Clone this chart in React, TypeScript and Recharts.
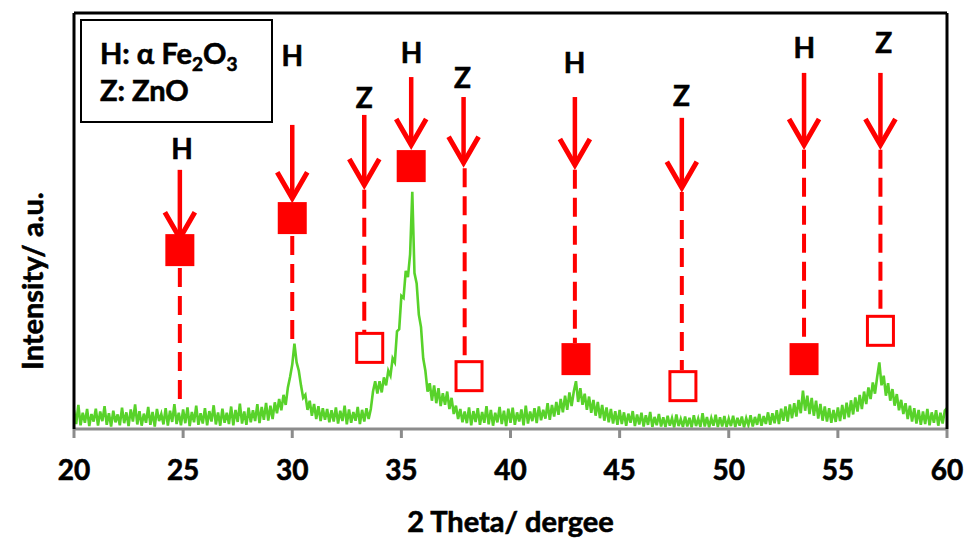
import React from "react";
import {
  ComposedChart,
  Line,
  Scatter,
  XAxis,
  YAxis,
  ReferenceLine,
  Legend,
  Label,
} from "recharts";

// ---- data ----
const spectrumStart = 20;
const spectrumStep = 0.1;
// intensity (a.u.) read every 0.1 degree from 20.0 to 60.0
const intensity = [
  4.5, 1.2, 5.8, 0.9, 3.9, 1.5, 4.8, 0.7, 3.6, 1.8,
  4.9, 0.8, 4.2, 1.9, 5.5, 1.0, 3.8, 0.6, 4.4, 1.6,
  3.5, 0.9, 5.1, 1.4, 4.0, 0.7, 4.7, 1.8, 5.9, 1.1,
  4.3, 0.8, 3.7, 1.5, 5.3, 1.0, 4.1, 0.6, 4.8, 1.9,
  3.6, 1.1, 5.0, 0.8, 4.4, 1.7, 6.0, 1.2, 3.9, 0.9,
  4.7, 1.4, 5.2, 0.7, 4.1, 1.6, 5.6, 1.0, 3.8, 1.3,
  5.0, 0.9, 4.3, 1.8, 5.7, 1.1, 4.0, 0.8, 4.9, 1.5,
  3.9, 1.2, 5.4, 0.9, 4.6, 1.7, 6.1, 1.3, 4.2, 1.0,
  5.1, 1.6, 4.5, 1.9, 6.0, 1.4, 5.3, 2.2, 6.3, 2.0,
  5.6, 2.4, 6.4, 3.8, 7.2, 4.5, 8.2, 5.8, 10.0, 12.5,
  15.5, 20.5, 16.0, 14.0, 10.5, 7.5, 8.2, 4.6, 6.8, 3.2,
  6.0, 2.4, 5.5, 1.9, 5.0, 2.2, 4.8, 1.6, 4.5, 1.8,
  5.2, 1.3, 4.4, 1.9, 5.6, 1.1, 4.7, 1.5, 4.1, 2.0,
  5.3, 1.2, 4.6, 1.8, 5.0, 2.4, 4.8, 9.0, 11.5, 8.5,
  11.5, 8.8, 12.4, 10.5, 14.0, 12.8, 17.0, 16.0, 23.5, 24.0,
  32.0, 31.5, 38.0, 36.5, 42.0, 57.0, 37.5, 35.0, 27.5, 24.5,
  17.0, 14.0, 9.0, 11.0, 6.8, 10.5, 6.2, 9.8, 5.5, 8.6,
  5.8, 9.0, 4.8, 7.5, 3.6, 5.6, 2.4, 4.8, 1.6, 4.2,
  1.4, 5.2, 0.9, 4.3, 1.7, 5.0, 1.0, 4.1, 1.5, 5.5,
  1.1, 4.6, 0.8, 3.9, 1.6, 5.3, 1.2, 4.4, 0.7, 4.9,
  1.5, 5.1, 1.0, 4.0, 1.8, 4.7, 0.9, 5.6, 1.3, 4.2,
  1.9, 5.0, 1.4, 5.4, 2.1, 4.6, 2.5, 6.2, 2.2, 5.8,
  3.0, 6.5, 3.4, 7.2, 4.0, 8.0, 4.6, 8.8, 5.5, 9.0,
  11.5, 6.5, 9.8, 5.8, 8.5, 4.6, 7.8, 3.9, 7.0, 3.2,
  6.5, 2.6, 5.8, 2.0, 5.2, 1.6, 4.8, 1.3, 4.3, 1.0,
  4.6, 1.2, 4.0, 0.8, 3.7, 1.5, 4.3, 0.7, 3.5, 1.1,
  3.9, 0.6, 3.3, 1.0, 4.1, 0.5, 2.9, 0.9, 3.6, 0.6,
  2.8, 0.5, 3.2, 0.8, 2.6, 0.4, 3.5, 0.7, 2.4, 0.5,
  3.0, 0.6, 2.7, 0.4, 3.3, 0.7, 2.5, 0.5, 3.8, 0.6,
  2.9, 0.4, 2.6, 0.8, 3.4, 0.5, 2.8, 0.6, 3.1, 0.5,
  2.5, 0.7, 3.2, 0.5, 2.7, 0.8, 3.0, 0.4, 2.6, 0.9,
  3.3, 0.6, 2.9, 1.0, 3.6, 0.8, 3.1, 1.2, 4.0, 1.0,
  3.8, 1.4, 4.5, 1.2, 4.9, 2.0, 5.4, 1.8, 5.9, 2.6,
  6.2, 3.0, 7.0, 3.8, 9.2, 4.4, 8.0, 3.6, 7.5, 3.2,
  6.8, 2.5, 6.0, 2.0, 5.4, 1.8, 5.0, 1.5, 4.6, 1.7,
  5.2, 1.9, 5.8, 2.4, 6.3, 2.8, 6.9, 3.5, 7.6, 4.2,
  8.2, 4.8, 9.0, 6.0, 10.0, 7.2, 11.2, 8.5, 12.5, 16.0,
  10.5, 12.8, 8.0, 11.0, 6.8, 9.6, 5.6, 8.4, 4.5, 7.0,
  3.6, 6.2, 2.4, 5.6, 1.8, 5.0, 1.3, 4.6, 1.0, 4.2,
  1.2, 4.8, 0.9, 4.0, 1.5, 4.5, 0.8, 3.9, 1.3, 4.4,
  5.0,
];

// phase markers (H = alpha Fe2O3 filled, Z = ZnO open)
const hMarkerX = [24.85, 30.0, 35.45, 43.0, 53.45];
const hMarkerY = [43.0, 50.7, 63.2, 16.8, 16.8];
const zMarkerX = [33.55, 38.1, 47.9, 56.95];
const zMarkerY = [19.5, 12.7, 10.3, 23.6];

// arrows: x, shaft top, tip
const arrowX = [24.85, 30.0, 33.3, 35.45, 37.85, 42.95, 47.85, 53.45, 56.95];
const arrowTop = [62.3, 73.1, 75.5, 84.6, 79.8, 79.8, 74.8, 85.6, 85.6];
const arrowTip = [45.4, 55.0, 58.2, 67.8, 63.5, 63.0, 57.5, 67.8, 67.8];

// phase letters above arrows
const letterText = ["H", "H", "Z", "H", "Z", "H", "Z", "H", "Z"];
const letterX = [24.95, 30.0, 33.3, 35.47, 37.8, 42.93, 47.83, 53.46, 57.1];
const letterY = [67.5, 89.9, 79.8, 90.6, 84.6, 88.2, 80.3, 91.8, 93.0];

// dashed drop lines: x, top, bottom
const dropX = [24.85, 30.0, 33.3, 37.9, 42.95, 47.85, 53.45, 56.95];
const dropTop = [38.7, 46.4, 57.5, 62.7, 62.3, 57.0, 67.1, 67.1];
const dropBottom = [7.0, 20.7, 23.3, 16.6, 20.7, 14.2, 20.7, 27.4];

const xTicks = [20, 25, 30, 35, 40, 45, 50, 55, 60];

const spectrum = intensity.map((y, i) => ({
  x: +(spectrumStart + i * spectrumStep).toFixed(2),
  y,
}));
const hMarkers = hMarkerX.map((x, i) => ({ x, y: hMarkerY[i] }));
const zMarkers = zMarkerX.map((x, i) => ({ x, y: zMarkerY[i] }));
const letters = letterX.map((x, i) => ({ x, y: letterY[i], label: letterText[i] }));

const RED = "#ff0000";
const GREEN = "#58d22a";
const FONT = "Lato, 'Open Sans', sans-serif";
const TEXT_STROKE = { stroke: "#000", strokeWidth: 0.6 };

const FilledSquare = (p: any) => {
  const { cx, cy } = p;
  if (cx == null || cy == null) return <g />;
  return <rect x={cx - 14.5} y={cy - 16} width={29} height={32} fill={RED} />;
};

const OpenSquare = (p: any) => {
  const { cx, cy } = p;
  if (cx == null || cy == null) return <g />;
  return (
    <rect
      x={cx - 13}
      y={cy - 14.5}
      width={26}
      height={29}
      fill="#fff"
      stroke={RED}
      strokeWidth={3}
    />
  );
};

const LetterShape = (p: any) => {
  const { cx, cy, payload } = p;
  if (cx == null || cy == null) return <g />;
  return (
    <text
      x={cx}
      y={cy}
      textAnchor="middle"
      dominantBaseline="central"
      fontFamily={FONT}
      fontWeight="bold"
      fontSize={28}
      fill="#000"
      {...TEXT_STROKE}
    >
      {payload.label}
    </text>
  );
};

const ArrowShape = (p: any) => {
  const { x1, y1, x2, y2 } = p;
  if ([x1, y1, x2, y2].some((v) => v == null || Number.isNaN(v))) return <g />;
  return (
    <g>
      <line x1={x1} y1={y1} x2={x2} y2={y2 - 4} stroke={RED} strokeWidth={4.5} />
      <path
        d={`M ${x2 - 15} ${y2 - 28} L ${x2} ${y2 - 2} L ${x2 + 15} ${y2 - 28}`}
        fill="none"
        stroke={RED}
        strokeWidth={5}
        strokeLinejoin="miter"
      />
    </g>
  );
};

const LegendBox = () => (
  <div
    style={{
      boxSizing: "border-box",
      width: 193,
      height: 104,
      border: "2.5px solid #000",
      background: "#fff",
      paddingLeft: 18,
      paddingTop: 13,
      fontFamily: FONT,
      fontWeight: "bold",
      fontSize: 29,
      lineHeight: "37px",
      color: "#000",
      textAlign: "left",
      WebkitTextStroke: "0.6px #000",
      whiteSpace: "nowrap",
    }}
  >
    <div>
      H: α Fe<sub style={{ fontSize: 19, lineHeight: 0 }}>2</sub>O
      <sub style={{ fontSize: 19, lineHeight: 0 }}>3</sub>
    </div>
    <div>Z: ZnO</div>
  </div>
);

export default function App() {
  return (
    <div
      style={{
        position: "absolute",
        left: 0,
        top: 0,
        width: 971,
        height: 540,
        background: "#fff",
      }}
    >
      <ComposedChart
        width={971}
        height={540}
        margin={{ top: 12, right: 23, left: 73, bottom: 0 }}
      >
        <XAxis
          dataKey="x"
          type="number"
          domain={[20, 60]}
          ticks={xTicks}
          allowDataOverflow
          height={111}
          axisLine={{ stroke: "#8c8c8c", strokeWidth: 3 }}
          tickLine={{ stroke: "#8c8c8c", strokeWidth: 3 }}
          tickSize={9}
          tickMargin={22}
          tick={{
            fontSize: 28,
            fontWeight: "bold",
            fill: "#000",
            fontFamily: FONT,
            ...TEXT_STROKE,
          }}
        >
          <Label
            value="2 Theta/ dergee"
            position="insideBottom"
            offset={8}
            style={{
              fontSize: 29,
              fontWeight: "bold",
              fill: "#000",
              fontFamily: FONT,
              ...TEXT_STROKE,
            }}
          />
        </XAxis>
        <XAxis
          xAxisId="top"
          orientation="top"
          type="number"
          domain={[20, 60]}
          ticks={xTicks}
          height={1}
          tick={false}
          tickLine={false}
          axisLine={{ stroke: "#000", strokeWidth: 3 }}
        />
        <YAxis
          type="number"
          domain={[0, 100]}
          ticks={[0, 100]}
          allowDataOverflow
          width={1}
          tick={false}
          tickLine={false}
          axisLine={{ stroke: "#000", strokeWidth: 3 }}
        >
          <Label
            content={() => (
              <text
                x={31}
                y={281}
                transform="rotate(-90 31 281)"
                textAnchor="middle"
                dominantBaseline="central"
                fontFamily={FONT}
                fontWeight="bold"
                fontSize={29}
                fill="#000"
                {...TEXT_STROKE}
              >
                Intensity/ a.u.
              </text>
            )}
          />
        </YAxis>
        <YAxis
          yAxisId="right"
          orientation="right"
          type="number"
          domain={[0, 100]}
          ticks={[0, 100]}
          width={1}
          tick={false}
          tickLine={false}
          axisLine={{ stroke: "#000", strokeWidth: 3 }}
        />
        <Legend
          layout="vertical"
          align="center"
          verticalAlign="middle"
          wrapperStyle={{ left: 80, top: 19, width: 193, height: 104 }}
          content={() => <LegendBox />}
        />
        {dropX.map((x, i) => (
          <ReferenceLine
            key={"d" + i}
            segment={[
              { x, y: dropTop[i] },
              { x, y: dropBottom[i] },
            ]}
            stroke={RED}
            strokeWidth={4}
            strokeDasharray="19 9"
          />
        ))}
        <Line
          data={spectrum}
          dataKey="y"
          stroke={GREEN}
          strokeWidth={2.6}
          dot={false}
          activeDot={false}
          isAnimationActive={false}
          type="linear"
        />
        {arrowX.map((x, i) => (
          <ReferenceLine
            key={"a" + i}
            segment={[
              { x, y: arrowTop[i] },
              { x, y: arrowTip[i] },
            ]}
            stroke={RED}
            shape={ArrowShape}
          />
        ))}
        <Scatter
          data={hMarkers}
          dataKey="y"
          shape={FilledSquare}
          isAnimationActive={false}
        />
        <Scatter
          data={zMarkers}
          dataKey="y"
          shape={OpenSquare}
          isAnimationActive={false}
        />
        <Scatter
          data={letters}
          dataKey="y"
          shape={LetterShape}
          isAnimationActive={false}
        />
      </ComposedChart>
    </div>
  );
}
